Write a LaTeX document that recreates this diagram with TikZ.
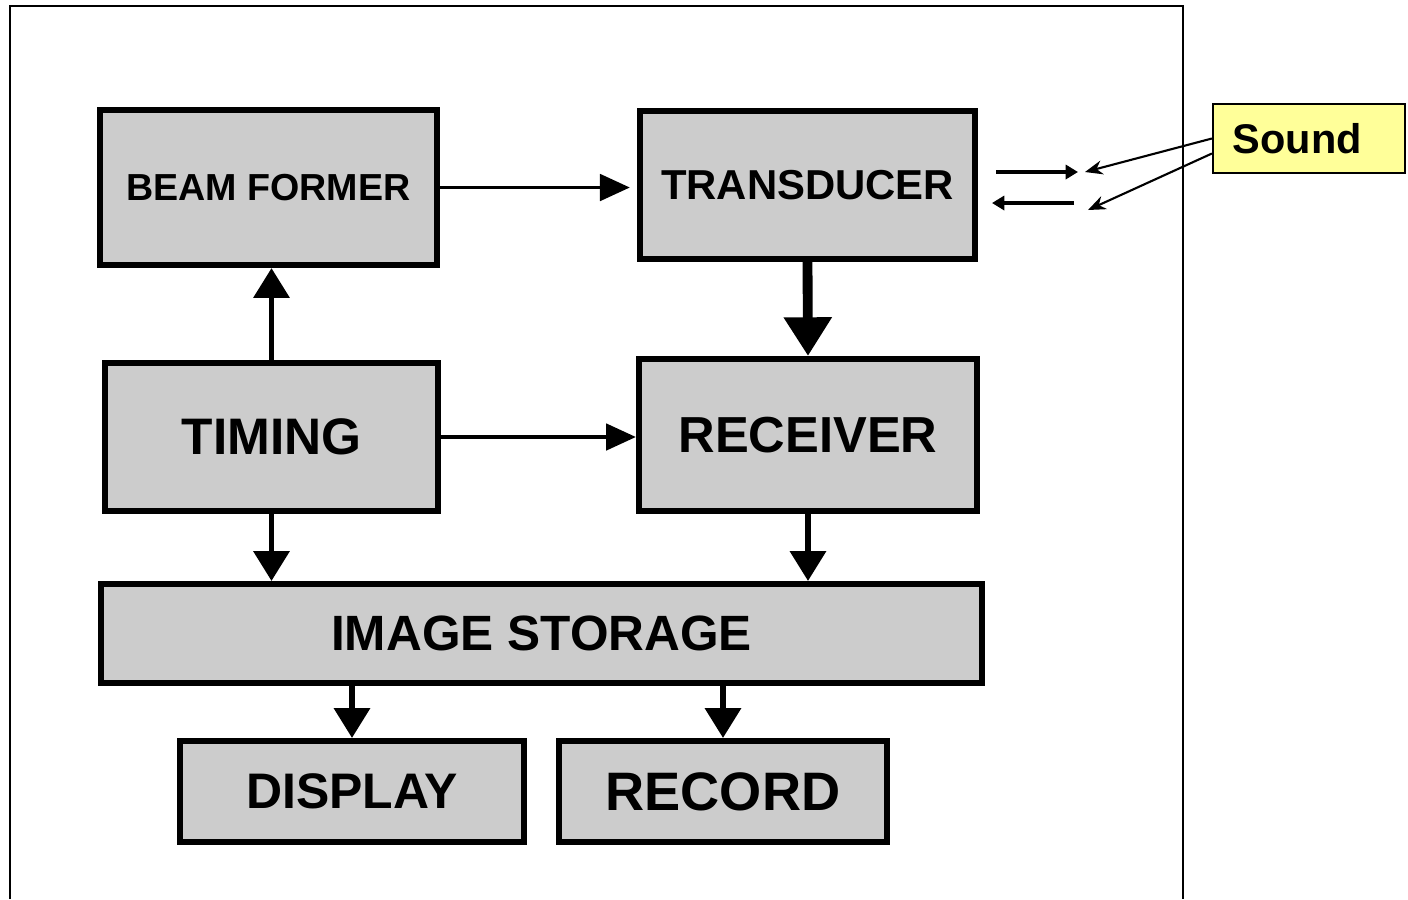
\documentclass[tikz,border=0pt]{standalone}
\usepackage{fontspec}
\setmainfont{Liberation Sans}
\usetikzlibrary{arrows.meta}
\definecolor{boxgray}{RGB}{204,204,204}
\definecolor{noteyellow}{RGB}{255,255,153}
\newcommand{\fs}[1]{\fontsize{#1}{#1}\selectfont\bfseries}
\begin{document}
\begin{tikzpicture}[x=0.01cm,y=-0.01cm,
		blk/.style={draw, line width=1.7pt, fill=boxgray, inner sep=0pt},
		flow/.style={line width=1.7pt, -{Triangle[length=8.5pt,width=10pt]}},
		bigflow/.style={line width=2.8pt, -{Triangle[length=11pt,width=13pt]}},
		thinflow/.style={line width=1.1pt, -{Triangle[length=8.5pt,width=7.5pt]}},
		tinyflow/.style={line width=1.1pt, -{Triangle[length=3.5pt,width=4pt]}},
		callout/.style={line width=0.6pt, -{Stealth[length=5pt,width=4pt]}}]
				\useasboundingbox (0,0) rectangle (1408,899);
				\draw[line width=0.6pt] (10,899) -- (10,6) -- (1183,6) -- (1183,899);
				% blocks
				\node[blk, minimum width=3.37cm, minimum height=1.55cm] (beam) at (268.5,187.5) {\fs{10.7}BEAM FORMER};
				\node[blk, minimum width=3.35cm, minimum height=1.48cm] (trans) at (807.5,185) {\fs{11.9}TRANSDUCER};
				\node[blk, minimum width=3.33cm, minimum height=1.48cm] (timing) at (271.5,437) {\fs{14.6}TIMING};
				\node[blk, minimum width=3.38cm, minimum height=1.52cm] (recv) at (808,435) {\fs{14.4}RECEIVER};
				\node[blk, minimum width=8.81cm, minimum height=0.99cm] (store) at (541.5,633.5) {\fs{14.1}IMAGE STORAGE};
				\node[blk, minimum width=3.44cm, minimum height=1.01cm] (disp) at (352,791.5) {\fs{14.2}DISPLAY};
				\node[blk, minimum width=3.28cm, minimum height=1.01cm] (rec) at (723,791.5) {\fs{15.4}RECORD};
				\node[draw, line width=0.6pt, fill=noteyellow, inner xsep=0.2cm, text width=1.52cm,
					minimum height=0.69cm, align=left] (sound) at (1309,138.5) {\fs{11.8}Sound};
				% connections
				\draw[thinflow, shorten >=2pt] (beam.east) -- (beam.east -| trans.west);
				\draw[thinflow] (timing.east) -- (timing.east -| recv.west);
				\draw[flow] (timing.north) -- (timing.north |- beam.south);
				\draw[bigflow] (trans.south) -- (recv.north);
				\draw[flow] (timing.south) -- (timing.south |- store.north);
				\draw[flow] (recv.south) -- (recv.south |- store.north);
				\draw[flow] (disp.north |- store.south) -- (disp.north);
				\draw[flow] (rec.north |- store.south) -- (rec.north);
				% sound in and out
				\coordinate (outA) at (996,172);
				\coordinate (outB) at (1078,172);
				\coordinate (inA) at (1074,203);
				\coordinate (inB) at (992,203);
				\coordinate (tipA) at (1085,172);
				\coordinate (tipB) at (1088,210);
				\draw[tinyflow] (outA) -- (outB);
				\draw[tinyflow] (inA) -- (inB);
				\draw[callout] (sound.west) -- (tipA);
				\draw[callout] ([yshift=-0.15cm]sound.west) -- (tipB);
			\end{tikzpicture}
\end{document}
